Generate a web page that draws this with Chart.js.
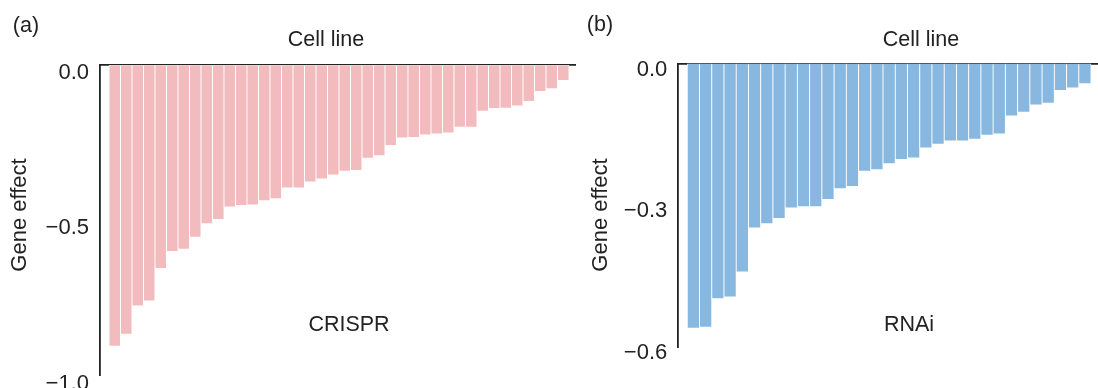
<!DOCTYPE html>
<html>
<head>
<meta charset="utf-8">
<script src="https://cdn.jsdelivr.net/npm/chart.js@4"></script>
<style>
  body { margin: 0; background: #fff; overflow: hidden; }
  canvas { position: absolute; top: 0; }
  #crispr { left: 0; }
  #rnai { left: 585px; }
</style>
</head>
<body>
<canvas id="crispr" width="590" height="400"></canvas>
<canvas id="rnai" width="513" height="388"></canvas>
<script>
// gene effect per cell line, sorted
const crisprEffect = [-0.905, -0.866, -0.775, -0.759, -0.655, -0.600, -0.593, -0.554, -0.511, -0.497,
  -0.457, -0.452, -0.450, -0.437, -0.430, -0.396, -0.396, -0.376, -0.367, -0.354,
  -0.342, -0.339, -0.300, -0.292, -0.259, -0.235, -0.233, -0.225, -0.222, -0.219,
  -0.200, -0.200, -0.149, -0.140, -0.139, -0.132, -0.117, -0.085, -0.076, -0.050];
const rnaiEffect = [-0.560, -0.558, -0.498, -0.494, -0.441, -0.348, -0.339, -0.328, -0.306, -0.303,
  -0.303, -0.288, -0.265, -0.260, -0.228, -0.225, -0.212, -0.203, -0.200, -0.179,
  -0.171, -0.164, -0.164, -0.160, -0.152, -0.149, -0.111, -0.103, -0.088, -0.084,
  -0.057, -0.052, -0.043];
const crisprTicks = [0, -0.5, -1.0];
const rnaiTicks = [0, -0.3, -0.6];

const FONT = '"Liberation Sans", Arial, sans-serif';
Chart.defaults.font.family = FONT;
Chart.defaults.color = '#222';

// free text: panel letters, axis names, method name
const textNotes = {
  id: 'textNotes',
  afterDraw(chart, args, opts) {
    const c = chart.ctx;
    c.save();
    c.fillStyle = '#222';
    c.textAlign = 'center';
    c.textBaseline = 'middle';
    opts.items.forEach(t => {
      c.save();
      c.font = (t.size || 21.5) + 'px ' + FONT;
      c.translate(t.x, t.y);
      if (t.rot) c.rotate(t.rot);
      c.fillText(t.text, 0, 0);
      c.restore();
    });
    c.restore();
  }
};

function fmt(v) {
  if (Math.abs(v) < 1e-9) return '0.0';
  return (v < 0 ? '\u2212' : '') + Math.abs(v).toFixed(1);
}

function makePanel(el, values, ticks, cfg) {
  return new Chart(el, {
    type: 'bar',
    data: {
      datasets: [{
        data: values.map((v, i) => ({x: i, y: v})),
        backgroundColor: cfg.color,
        borderColor: 'rgba(255,255,255,0.85)',
        borderWidth: 0.8,
        borderSkipped: false,
        barPercentage: 1,
        categoryPercentage: 1
      }]
    },
    options: {
      responsive: false,
      animation: false,
      layout: {padding: cfg.pad},
      plugins: {
        legend: {display: false},
        tooltip: {enabled: false},
        textNotes: {items: cfg.notes}
      },
      scales: {
        x: {
          type: 'linear',
          position: 'top',
          offset: false,
          min: cfg.xmin,
          max: cfg.xmax,
          grid: {display: false, drawTicks: false},
          border: {display: true, color: '#222', width: 1.8},
          ticks: {display: false},
          afterFit: s => { s.height = cfg.top; }
        },
        y: {
          min: ticks[ticks.length - 1],
          max: ticks[0],
          grid: {display: false, drawTicks: false},
          border: {display: true, color: '#222', width: 1.8},
          afterBuildTicks: s => { s.ticks = ticks.map(v => ({value: v})); },
          ticks: {
            padding: 11,
            labelOffset: cfg.labelOffset,
            font: {size: 22},
            color: '#222',
            callback: v => fmt(v)
          },
          afterFit: s => { s.width = cfg.left; }
        }
      }
    },
    plugins: [textNotes]
  });
}

makePanel(document.getElementById('crispr'), crisprEffect, crisprTicks, {
  color: '#f2bcbe',
  pad: {left: 0, right: 15, top: 0, bottom: 22},
  top: 65,
  left: 100,
  xmin: -1.283,
  xmax: 40.02,
  labelOffset: 8,
  notes: [
    {text: '(a)', x: 26, y: 26},
    {text: 'Cell line', x: 326, y: 40},
    {text: 'CRISPR', x: 349, y: 325.5},
    {text: 'Gene effect', x: 20, y: 215, rot: -Math.PI / 2, size: 22}
  ]
});

makePanel(document.getElementById('rnai'), rnaiEffect, rnaiTicks, {
  color: '#88b7df',
  pad: {left: 0, right: 0, top: 0, bottom: 41},
  top: 63.5,
  left: 93.3,
  xmin: -1.234,
  xmax: 33.07,
  labelOffset: 6,
  notes: [
    {text: '(b)', x: 15, y: 25.5},
    {text: 'Cell line', x: 336, y: 40},
    {text: 'RNAi', x: 324, y: 325},
    {text: 'Gene effect', x: 16, y: 215, rot: -Math.PI / 2, size: 22}
  ]
});
</script>
</body>
</html>
